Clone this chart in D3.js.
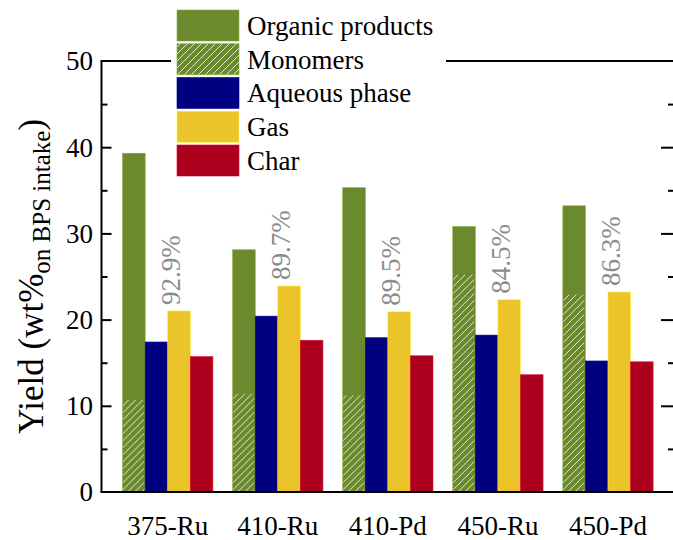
<!DOCTYPE html>
<html>
<head>
<meta charset="utf-8">
<script src="https://cdn.jsdelivr.net/npm/d3@7"></script>
<style>
  html, body { margin: 0; padding: 0; background: #fff; }
  svg { display: block; }
  svg text { font-family: "Liberation Serif", "DejaVu Serif", serif; }
</style>
</head>
<body>
<svg id="chart" width="673" height="540"></svg>
<script>
// Product yields per run (wt% on BPS intake)
const categories = ["375-Ru", "410-Ru", "410-Pd", "450-Ru", "450-Pd"];
const organic    = [39.3, 28.1, 35.3, 30.8, 33.2];
const monomers   = [10.7, 11.4, 11.2, 25.2, 22.9];
const aqueous    = [17.4, 20.4, 17.9, 18.2, 15.2];
const gas        = [21.0, 23.9, 20.9, 22.3, 23.2];
const charYield  = [15.7, 17.6, 15.8, 13.6, 15.1];
const recovery   = ["92.9%", "89.7%", "89.5%", "84.5%", "86.3%"];
const yTicks     = [0, 10, 20, 30, 40, 50];
const legendNames = ["Organic products", "Monomers", "Aqueous phase", "Gas", "Char"];

const colors = {
  organic: "#6b8a2d",
  aqueous: "#000080",
  gas: "#eac42a",
  char: "#ad001f"
};
const serif = "Liberation Serif";

const svg = d3.select("#chart");
const plotL = 101.5, plotR = 674, plotT = 61, plotB = 492;

const y = d3.scaleLinear().domain([0, 50]).range([plotB, plotT]);
const x0 = d3.scaleBand().domain(categories).range([101.7, 674])
  .paddingInner(0.18).paddingOuter(0.19);
const seriesKeys = ["organic", "aqueous", "gas", "char"];
const x1 = d3.scaleBand().domain(seriesKeys).range([0, x0.bandwidth()]);

// Diagonal white hatch for the monomer share
const defs = svg.append("defs");
const hs = 7;
const pat = defs.append("pattern")
  .attr("id", "hatch").attr("patternUnits", "userSpaceOnUse")
  .attr("width", hs).attr("height", hs);
pat.append("rect").attr("width", hs).attr("height", hs).attr("fill", colors.organic);
pat.append("path")
  .attr("d", `M-1,1 l2,-2 M0,${hs} l${hs},-${hs} M${hs - 1},${hs + 1} l2,-2`)
  .attr("stroke", "#ffffff").attr("stroke-opacity", 0.8)
  .attr("stroke-width", 1);

const rows = categories.map((c, i) => ({
  cat: c,
  organic: organic[i], monomers: monomers[i], aqueous: aqueous[i],
  gas: gas[i], char: charYield[i], label: recovery[i]
}));

const groups = svg.append("g").selectAll("g").data(rows).join("g")
  .attr("transform", d => `translate(${x0(d.cat)},0)`);

groups.selectAll("rect.bar")
  .data(d => seriesKeys.map(k => ({ key: k, value: d[k] })))
  .join("rect").attr("class", "bar")
  .attr("x", d => x1(d.key))
  .attr("width", x1.bandwidth())
  .attr("y", d => y(d.value))
  .attr("height", d => y(0) - y(d.value))
  .attr("fill", d => colors[d.key])
  .attr("stroke", d => d3.color(colors[d.key]).brighter(0.6))
  .attr("stroke-width", 0.6);

// Monomer portion of the organic bar
groups.append("rect")
  .attr("x", x1("organic") + 0.5)
  .attr("width", x1.bandwidth() - 1.5)
  .attr("y", d => y(d.monomers))
  .attr("height", d => y(0) - y(d.monomers))
  .attr("fill", "url(#hatch)");

// Mass balance closure, written vertically above the gas bar
groups.append("text")
  .attr("transform", d => `translate(${x1("gas") + 3},${y(d.gas) - 6}) rotate(-90)`)
  .attr("dy", "0.35em")
  .attr("font-family", serif)
  .attr("font-size", 27)
  .attr("fill", "#8c8c8c")
  .text(d => d.label);

// Frame and axes
const axisG = svg.append("g");
axisG.append("line").attr("x1", plotL).attr("x2", plotL).attr("y1", plotT).attr("y2", plotB)
  .attr("stroke", "#000").attr("stroke-width", 2);
axisG.append("line").attr("x1", plotR).attr("x2", plotR).attr("y1", plotT).attr("y2", plotB)
  .attr("stroke", "#000").attr("stroke-width", 2);
axisG.append("line").attr("x1", plotL - 1).attr("x2", plotR).attr("y1", plotT).attr("y2", plotT)
  .attr("stroke", "#000").attr("stroke-width", 2);
axisG.append("line").attr("x1", plotL - 1).attr("x2", plotR).attr("y1", plotB).attr("y2", plotB)
  .attr("stroke", "#000").attr("stroke-width", 2.2);

const minorTicks = d3.range(5, 50, 10);
// left ticks (inward)
axisG.append("g").attr("transform", `translate(${plotL},0)`)
  .call(d3.axisRight(y).tickValues(yTicks.slice(1, -1)).tickSize(10).tickFormat(""))
  .call(g => g.select(".domain").remove())
  .call(g => g.selectAll("line").attr("stroke-width", 2));
axisG.append("g").attr("transform", `translate(${plotL},0)`)
  .call(d3.axisRight(y).tickValues(minorTicks).tickSize(6).tickFormat(""))
  .call(g => g.select(".domain").remove())
  .call(g => g.selectAll("line").attr("stroke-width", 2));
// right ticks (inward)
axisG.append("g").attr("transform", `translate(${plotR},0)`)
  .call(d3.axisLeft(y).tickValues(yTicks.slice(1, -1)).tickSize(13).tickFormat(""))
  .call(g => g.select(".domain").remove())
  .call(g => g.selectAll("line").attr("stroke-width", 2));
axisG.append("g").attr("transform", `translate(${plotR},0)`)
  .call(d3.axisLeft(y).tickValues(minorTicks).tickSize(6).tickFormat(""))
  .call(g => g.select(".domain").remove())
  .call(g => g.selectAll("line").attr("stroke-width", 2));

// y tick labels
svg.append("g").selectAll("text").data(yTicks).join("text")
  .attr("x", 93).attr("y", d => y(d)).attr("dy", "0.35em")
  .attr("text-anchor", "end").attr("font-family", serif).attr("font-size", 27).attr("fill", "#000")
  .text(d => d);

// x category labels
svg.append("g").selectAll("text").data(categories).join("text")
  .attr("x", d => x0(d) + x0.bandwidth() / 2).attr("y", 535)
  .attr("text-anchor", "middle").attr("font-family", serif).attr("font-size", 27).attr("fill", "#000")
  .text(d => d);

// y axis title with subscript
const title = svg.append("text")
  .attr("transform", `translate(43,${(plotT + plotB) / 2}) rotate(-90)`)
  .attr("text-anchor", "middle").attr("font-family", serif).attr("font-size", 35).attr("fill", "#000");
title.append("tspan").text("Yield (wt%");
title.append("tspan").attr("font-size", 25).attr("dy", 7).text("on BPS intake");
title.append("tspan").attr("dy", -7).text(")");

// Legend on a white panel over the top frame line
const legend = svg.append("g");
legend.append("rect").attr("x", 171).attr("y", 4).attr("width", 275).attr("height", 178)
  .attr("fill", "#fff");
const legendFills = [colors.organic, "url(#hatch)", colors.aqueous, colors.gas, colors.char];
const ly = d3.scalePoint().domain(legendNames).range([25.5, 160.5]);
legend.selectAll("rect.sw").data(legendNames).join("rect").attr("class", "sw")
  .attr("x", 177).attr("width", 62)
  .attr("y", d => ly(d) - 15.5).attr("height", 31)
  .attr("fill", (d, i) => legendFills[i])
  .attr("stroke", (d, i) => d3.color(i === 1 ? colors.organic : legendFills[i]).brighter(0.6))
  .attr("stroke-width", 0.6);
legend.selectAll("text").data(legendNames).join("text")
  .attr("x", 247).attr("y", d => ly(d)).attr("dy", "0.35em")
  .attr("font-family", serif).attr("font-size", 27).attr("fill", "#000")
  .text(d => d);
</script>
</body>
</html>
